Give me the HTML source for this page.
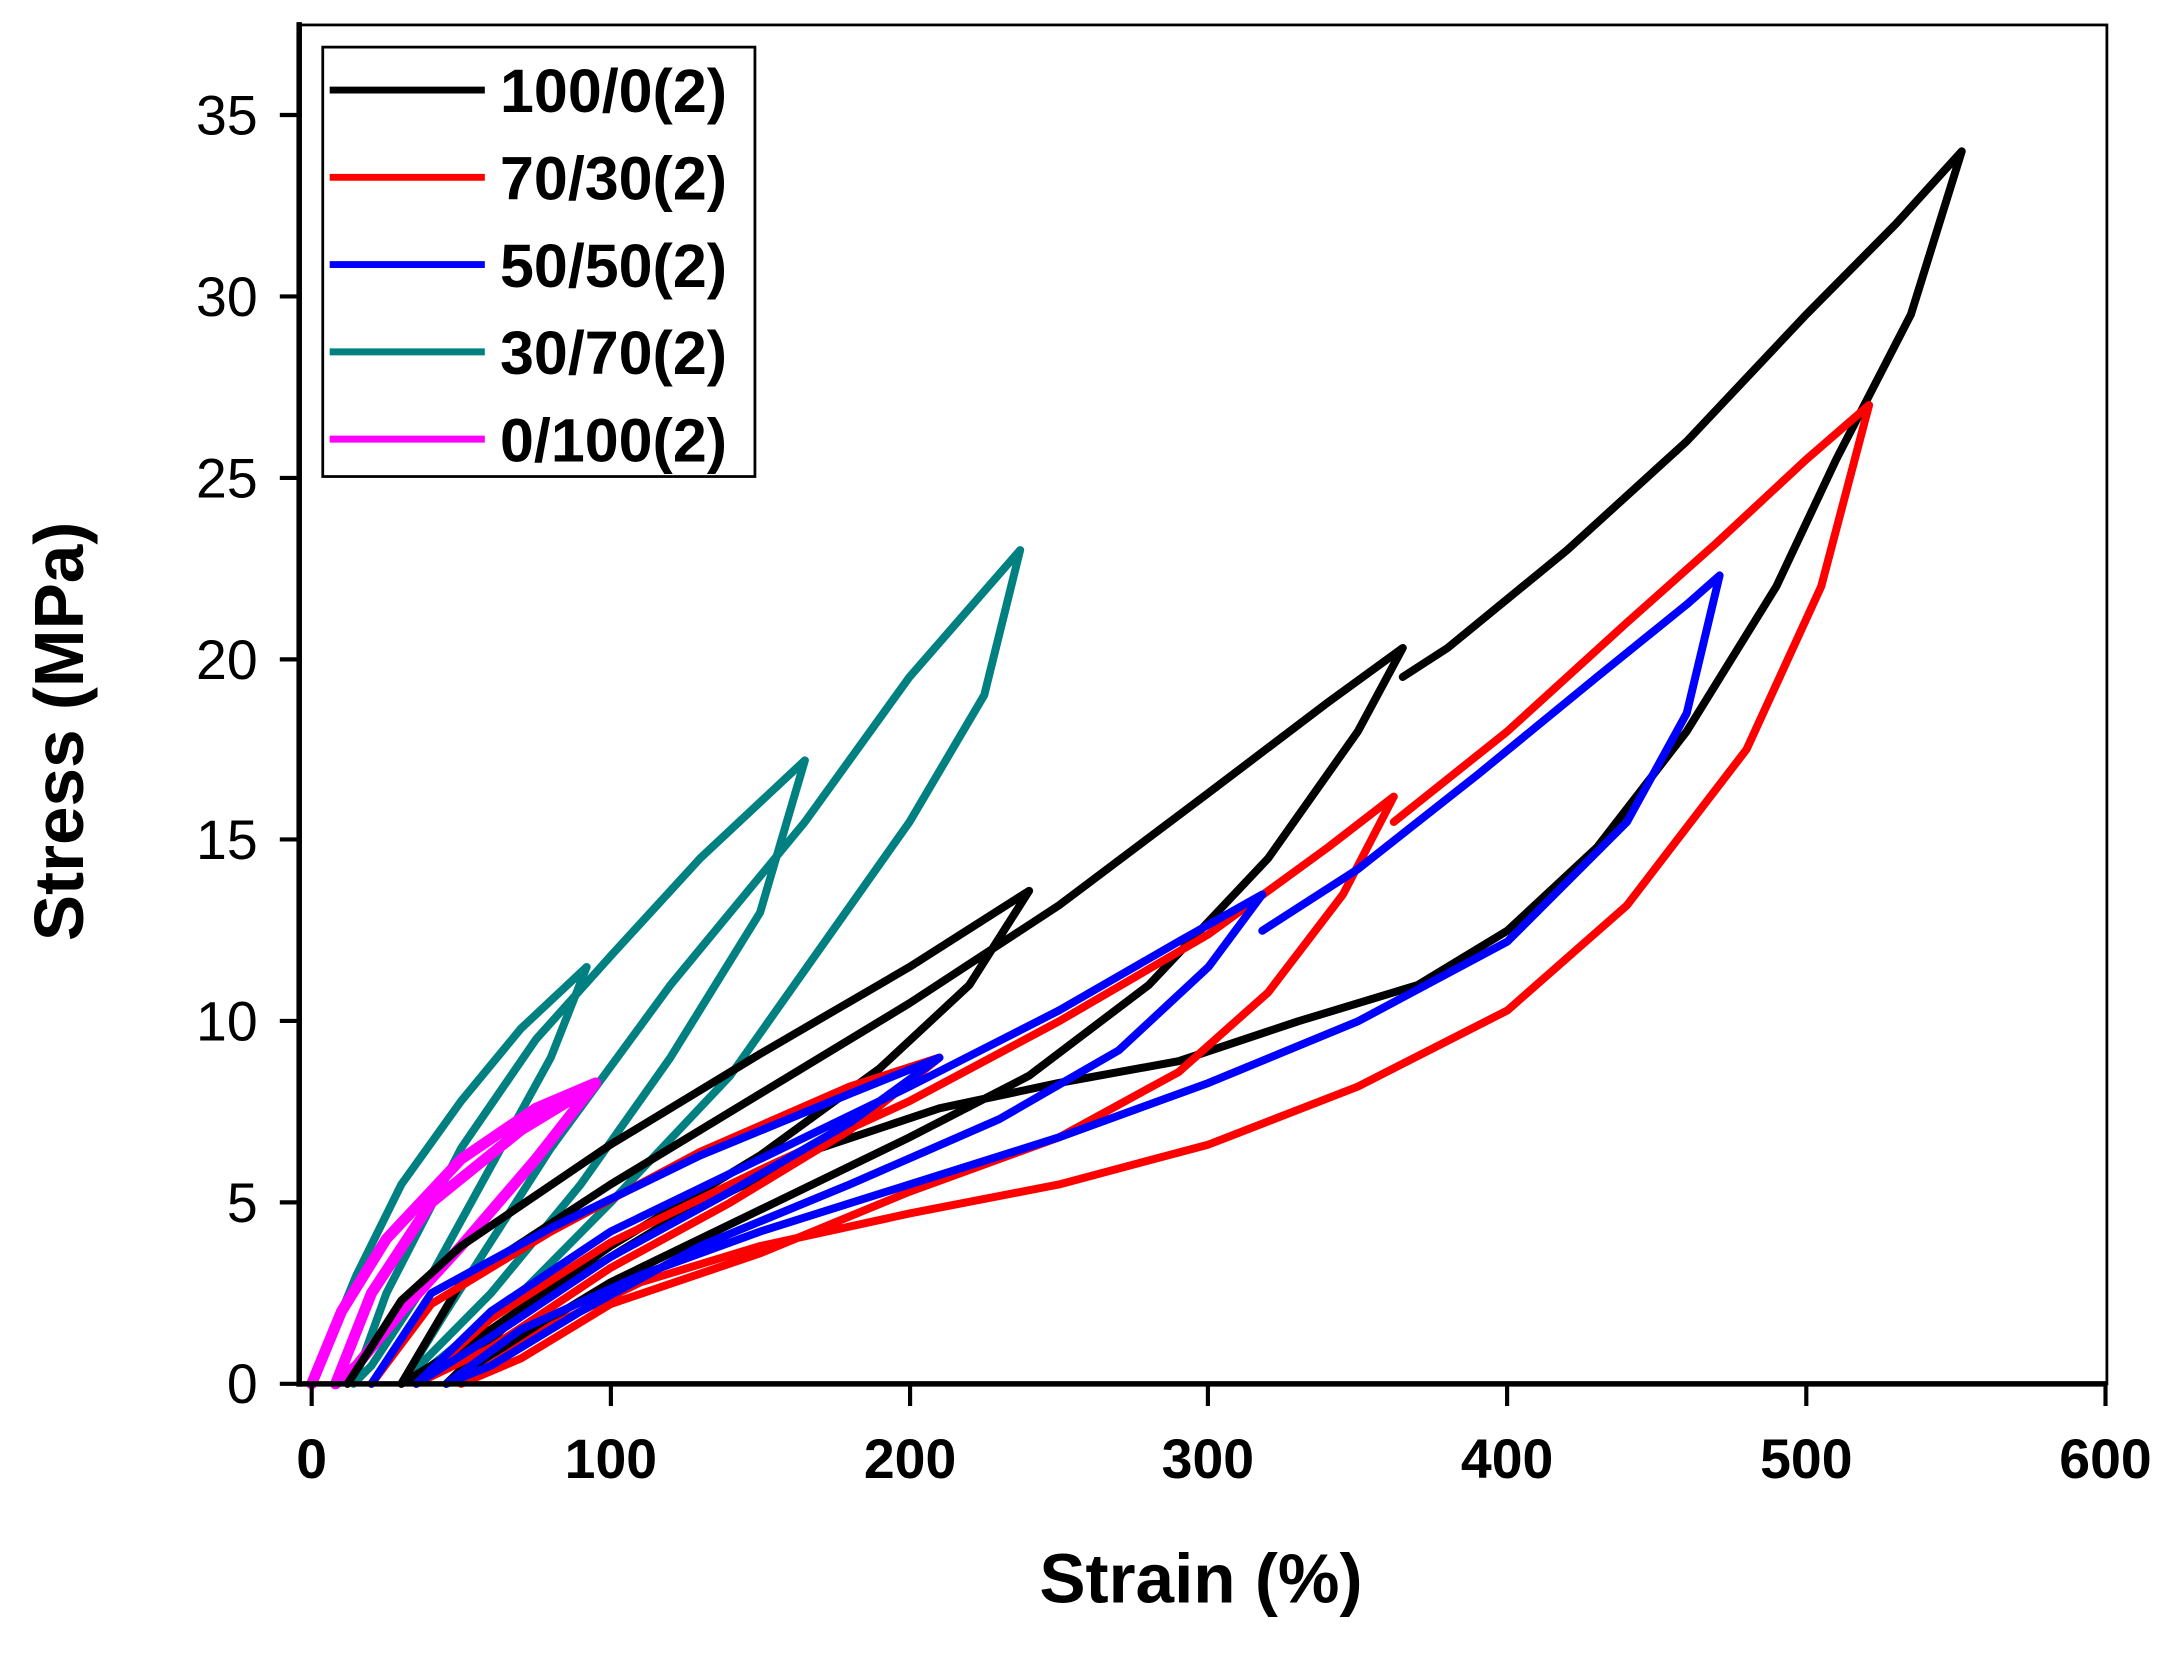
<!DOCTYPE html>
<html><head><meta charset="utf-8"><style>html,body{margin:0;padding:0;background:#fff}svg{display:block}</style></head>
<body>
<svg width="2172" height="1653" viewBox="0 0 1568 1193.3" xmlns="http://www.w3.org/2000/svg" font-family="Liberation Sans, sans-serif">
<rect width="1568" height="1194" fill="#fff"/>
<g fill="none" stroke-linejoin="round" stroke-linecap="round">
<g transform="translate(225,999) scale(2.158,-26.17)" stroke-width="8">
<polyline vector-effect="non-scaling-stroke" stroke="#008080" points="0,0 15,3 30,5.5 50,7.8 70,9.8 92,11.5 80,9 60,6 40,3 20,0.5 14,0 25,2.5 50,6.5 75,9.5 100,11.8 130,14.5 165,17.2 150,13 120,9 90,5.5 60,2.5 30,0 45,2 80,6.5 120,11 165,15.5 200,19.5 237,23 225,19 200,15.5 170,12 140,8.5 100,5 70,2.5 40,0.5"/>
<polyline vector-effect="non-scaling-stroke" stroke="#ff00ff" stroke-width="11" points="0,0 10,2 25,4 50,6.2 75,7.6 95,8.3 75,6.2 50,3.8 30,2 15,0.5 8,0 20,2.5 40,5 70,7 90,8"/>
<polyline vector-effect="non-scaling-stroke" stroke="#000" points="12,0 30,2.3 50,3.8 100,6.6 150,9.1 200,11.5 240,13.6 220,11 190,8.7 150,6.3 100,3.8 60,1.5 30,0 50,2.8 100,5.5 150,8 200,10.5 250,13.2 300,16.3 340,18.8 365,20.3 350,18 320,14.5 280,11 240,8.5 200,6.8 150,4.8 100,2.8 60,0.8 45,0 70,2 120,4.5 170,6.5 210,7.6 250,8.3 290,8.9 330,10 370,11 400,12.5 430,14.8 460,18 490,22 510,25.5 535,29.5 552,34 530,32 500,29.5 460,26 420,23 380,20.3 365,19.5"/>
<polyline vector-effect="non-scaling-stroke" stroke="#ff0000" points="20,0 40,2.2 80,4.2 130,6.4 180,8.2 210,9 180,7 140,5 100,3.2 60,1 35,0 60,1.8 100,3.9 150,5.9 200,7.8 250,10 300,12.4 340,14.8 362,16.2 345,13.5 320,10.8 290,8.6 250,6.8 200,5.3 150,3.6 100,2.2 70,0.7 50,0 80,1.6 110,2.8 150,3.8 200,4.7 250,5.5 300,6.6 350,8.2 400,10.3 440,13.2 480,17.5 505,22 521,27 500,25.5 470,23.2 440,21 400,18 362,15.5"/>
<polyline vector-effect="non-scaling-stroke" stroke="#0000ff" points="20,0 40,2.5 80,4.3 130,6.3 180,8 210,9 180,7.2 140,5.3 100,3.5 60,1.3 35,0 60,2 100,4.2 150,6.2 200,8.2 250,10.3 290,12.2 318,13.5 300,11.5 270,9.2 230,7.3 180,5.5 130,3.8 90,2 60,0.5 45,0 70,1.5 110,3 150,4.2 200,5.5 250,6.8 300,8.3 350,10 400,12.2 440,15.5 460,18.5 471,22.3 460,21.5 430,19.5 390,16.8 350,14.2 318,12.5"/>
</g>
</g>
<rect x="216" y="18" width="1305" height="981" fill="none" stroke="#000" stroke-width="2"/>
<g stroke="#000" stroke-width="4">
<line x1="216" y1="16" x2="216" y2="1001"/>
<line x1="214" y1="999" x2="1521" y2="999"/>
</g>
<g stroke="#000" stroke-width="3">
<line x1="202" y1="999" x2="216" y2="999"/><line x1="202" y1="868" x2="216" y2="868"/><line x1="202" y1="737" x2="216" y2="737"/><line x1="202" y1="606" x2="216" y2="606"/><line x1="202" y1="476" x2="216" y2="476"/><line x1="202" y1="345" x2="216" y2="345"/><line x1="202" y1="214" x2="216" y2="214"/><line x1="202" y1="83" x2="216" y2="83"/>
<line x1="225" y1="999" x2="225" y2="1015"/><line x1="441" y1="999" x2="441" y2="1015"/><line x1="657" y1="999" x2="657" y2="1015"/><line x1="872" y1="999" x2="872" y2="1015"/><line x1="1088" y1="999" x2="1088" y2="1015"/><line x1="1304" y1="999" x2="1304" y2="1015"/><line x1="1520" y1="999" x2="1520" y2="1015"/>
</g>
<g font-size="40" text-anchor="end" fill="#000">
<text x="186" y="1013">0</text><text x="186" y="882">5</text><text x="186" y="751">10</text><text x="186" y="620">15</text><text x="186" y="490">20</text><text x="186" y="359">25</text><text x="186" y="228">30</text><text x="186" y="97">35</text>
</g>
<g font-size="40" font-weight="bold" text-anchor="middle" fill="#000">
<text x="225" y="1067">0</text><text x="441" y="1067">100</text><text x="657" y="1067">200</text><text x="872" y="1067">300</text><text x="1088" y="1067">400</text><text x="1304" y="1067">500</text><text x="1520" y="1067">600</text>
</g>
<text x="867" y="1157" font-size="50" font-weight="bold" text-anchor="middle">Strain (%)</text>
<text transform="translate(60,528) rotate(-90)" font-size="50" font-weight="bold" text-anchor="middle">Stress (MPa)</text>
<rect x="233" y="34" width="312" height="310" fill="#fff" stroke="#000" stroke-width="2"/>
<g stroke-width="5">
<line x1="238" y1="65" x2="350" y2="65" stroke="#000"/>
<line x1="238" y1="128" x2="350" y2="128" stroke="#ff0000"/>
<line x1="238" y1="191" x2="350" y2="191" stroke="#0000ff"/>
<line x1="238" y1="254" x2="350" y2="254" stroke="#008080"/>
<line x1="238" y1="317" x2="350" y2="317" stroke="#ff00ff"/>
</g>
<g font-size="44" font-weight="bold" fill="#000">
<text x="361" y="81">100/0(2)</text><text x="361" y="144">70/30(2)</text><text x="361" y="207">50/50(2)</text><text x="361" y="270">30/70(2)</text><text x="361" y="333">0/100(2)</text>
</g>
</svg>
</body></html>
